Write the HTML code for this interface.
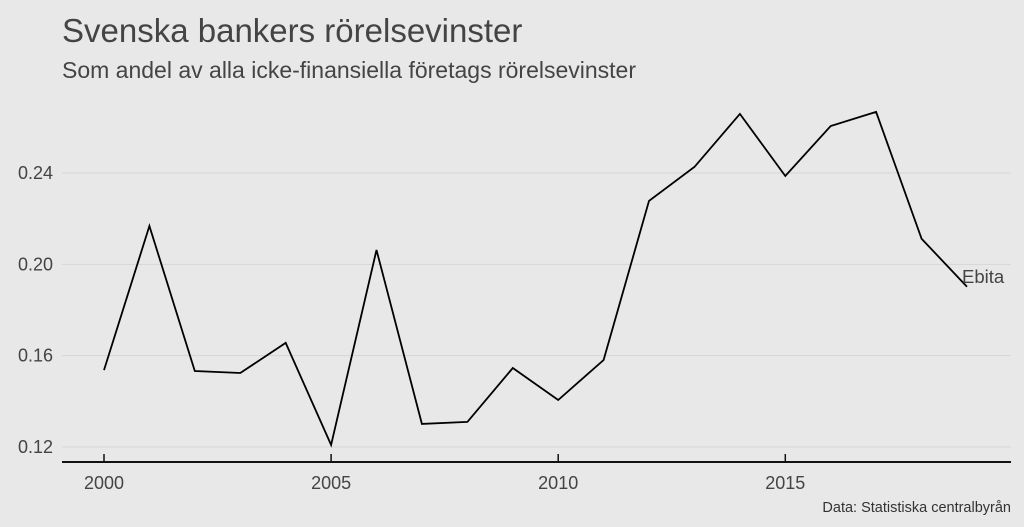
<!DOCTYPE html>
<html><head><meta charset="utf-8"><style>
html,body{margin:0;padding:0;background:#e8e8e8;}
svg{display:block;font-family:"Liberation Sans",sans-serif;}
</style></head><body>
<svg width="1024" height="527" viewBox="0 0 1024 527">
<rect width="1024" height="527" fill="#e8e8e8"/>
<text x="62" y="42" font-size="33" fill="#444">Svenska bankers rörelsevinster</text>
<text x="62" y="78" font-size="23" fill="#444">Som andel av alla icke-finansiella företags rörelsevinster</text>
<g id="grid"></g><g id="yt"></g><g id="xt"></g>
<line x1="62" x2="1011" y1="462" y2="462" stroke="#111" stroke-width="2"/>
<path id="line" fill="none" stroke="#000" stroke-width="1.8"/>
<text x="962" y="283" font-size="18.5" fill="#444">Ebita</text>
<text x="1011" y="512" font-size="14.5" fill="#333" text-anchor="end">Data: Statistiska centralbyrån</text>
</svg>
<script>
const years=[2000,2001,2002,2003,2004,2005,2006,2007,2008,2009,2010,2011,2012,2013,2014,2015,2016,2017,2018,2019];
const ebita=[0.1537,0.2168,0.1533,0.1524,0.1656,0.1209,0.2063,0.1301,0.1310,0.1546,0.1406,0.1581,0.2278,0.2427,0.2659,0.2387,0.2606,0.2668,0.2112,0.1902];
const yTicks=[0.12,0.16,0.20,0.24];
const yTickLabels=["0.12","0.16","0.20","0.24"];
const xTicks=[2000,2005,2010,2015];
const xTickLabels=["2000","2005","2010","2015"];
const X=v=>104+(v-2000)*45.42;
const Y=v=>447-(v-0.12)*2283;
const ns="http://www.w3.org/2000/svg";
const g=document.getElementById('grid'),yt=document.getElementById('yt'),xt=document.getElementById('xt');
yTicks.forEach((t,i)=>{
 const l=document.createElementNS(ns,'line');
 l.setAttribute('x1',62);l.setAttribute('x2',1011);l.setAttribute('y1',Y(t));l.setAttribute('y2',Y(t));
 l.setAttribute('stroke','#d6d6d6');l.setAttribute('stroke-width','1');
 
 
 g.appendChild(l);
 const tx=document.createElementNS(ns,'text');
 tx.setAttribute('x',53);tx.setAttribute('y',Y(t)+6);tx.setAttribute('text-anchor','end');
 tx.setAttribute('font-size','18');tx.setAttribute('fill','#444');tx.textContent=yTickLabels[i];
 
 
 yt.appendChild(tx);
});
xTicks.forEach((t,i)=>{
 const l=document.createElementNS(ns,'line');
 l.setAttribute('x1',X(t));l.setAttribute('x2',X(t));l.setAttribute('y1',454);l.setAttribute('y2',462);
 l.setAttribute('stroke','#111');l.setAttribute('stroke-width','1.5');
 
 
 xt.appendChild(l);
 const tx=document.createElementNS(ns,'text');
 tx.setAttribute('x',X(t));tx.setAttribute('y',489);tx.setAttribute('text-anchor','middle');
 tx.setAttribute('font-size','18');tx.setAttribute('fill','#444');tx.textContent=xTickLabels[i];
 
 
 xt.appendChild(tx);
});
document.getElementById('line').setAttribute('d',years.map((y,i)=>(i?'L':'M')+X(y).toFixed(1)+','+Y(ebita[i]).toFixed(1)).join(''));
</script>
</body></html>
